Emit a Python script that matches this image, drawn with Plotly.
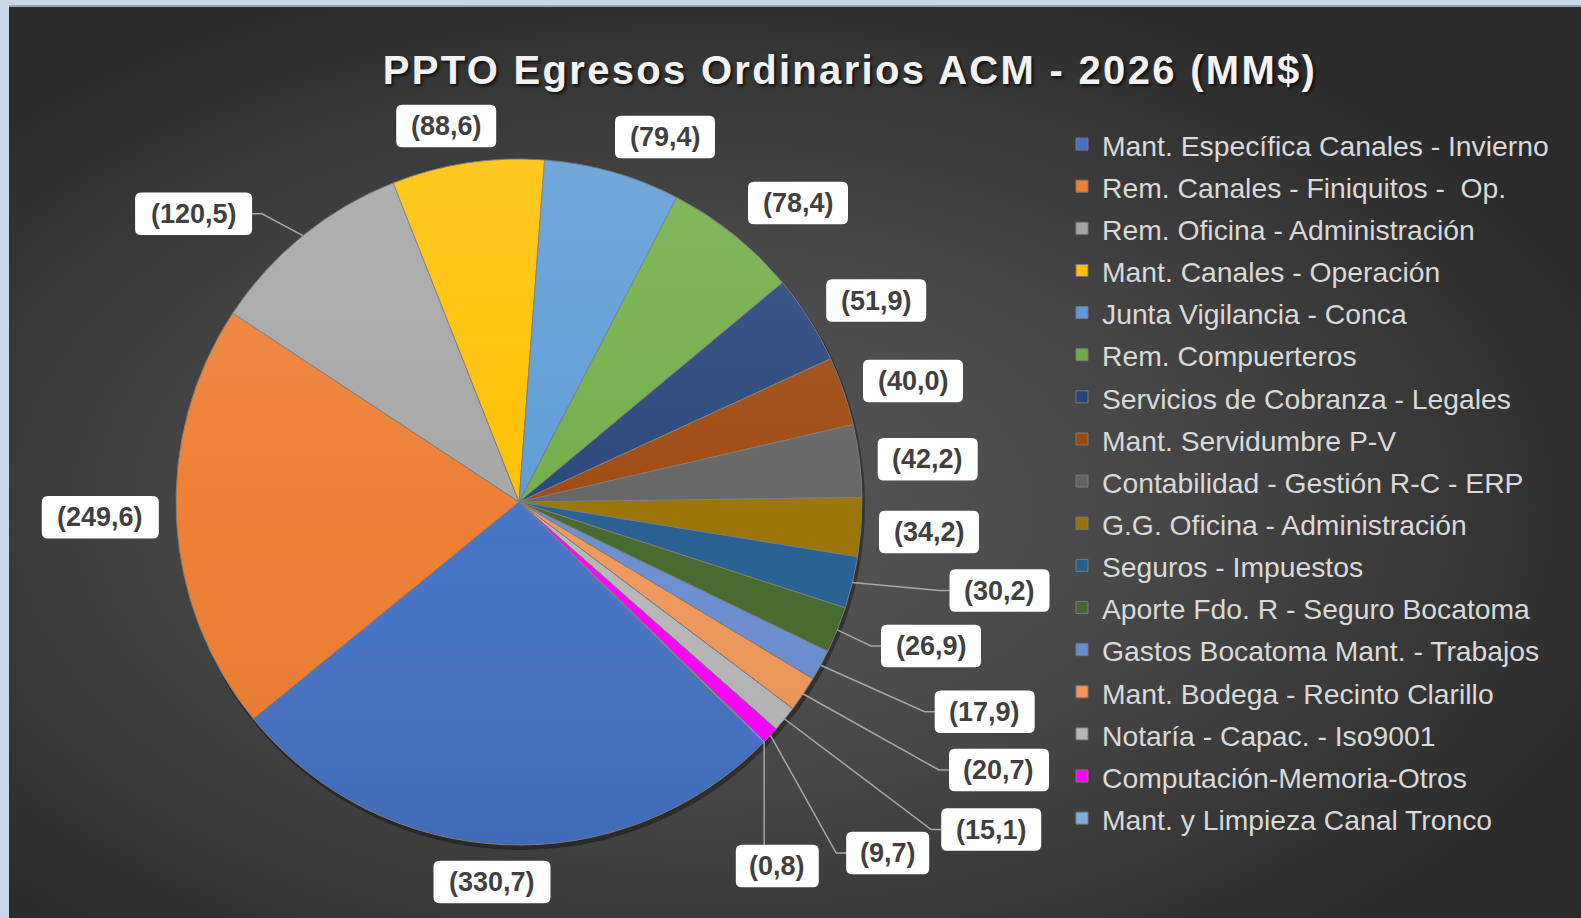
import base64
import math
import plotly.graph_objects as go

W, H = 1581, 918

# ---------------- data ----------------
CATEGORIES = [
    "Mant. Específica Canales - Invierno",
    "Rem. Canales - Finiquitos - \u00a0Op.",
    "Rem. Oficina - Administración",
    "Mant. Canales - Operación",
    "Junta Vigilancia - Conca",
    "Rem. Compuerteros",
    "Servicios de Cobranza - Legales",
    "Mant. Servidumbre P-V",
    "Contabilidad - Gestión R-C - ERP",
    "G.G. Oficina - Administración",
    "Seguros - Impuestos",
    "Aporte Fdo. R - Seguro Bocatoma",
    "Gastos Bocatoma Mant. - Trabajos",
    "Mant. Bodega - Recinto Clarillo",
    "Notaría - Capac. - Iso9001",
    "Computación-Memoria-Otros",
    "Mant. y Limpieza Canal Tronco",
]
VALUES = [330.7, 249.6, 120.5, 88.6, 79.4, 78.4, 51.9, 40.0, 42.2, 34.2,
          30.2, 26.9, 17.9, 20.7, 15.1, 9.7, 0.8]
VALUE_LABELS = ["(330,7)", "(249,6)", "(120,5)", "(88,6)", "(79,4)", "(78,4)",
                "(51,9)", "(40,0)", "(42,2)", "(34,2)", "(30,2)", "(26,9)",
                "(17,9)", "(20,7)", "(15,1)", "(9,7)", "(0,8)"]

# ---------------- styles / layout ----------------
COLORS = ["#4472C4", "#ED7D31", "#A5A5A5", "#FFC000", "#5B9BD5", "#70AD47",
          "#264478", "#9E480E", "#636363", "#997300", "#255E91", "#43682B",
          "#698ED0", "#F1975A", "#B7B7B7", "#FF00FF", "#7CAFDD"]

PIE_CX, PIE_CY, PIE_R = 519, 502, 343      # pixels
ROTATION = 134.5
# label box centres (pixels) and leader-line style
LABEL_POS = [(492, 882), (100.3, 517.2), (193.6, 213.8), (446.2, 126), (665, 137),
             (798, 203), (876.2, 300.5), (913, 381), (927.7, 459.3), (929, 532),
             (999.5, 590.5), (931, 646), (984.7, 711.7), (999, 770), (991.2, 829.5),
             (887.7, 853), (777.3, 866)]
LEADER = [None, None, "side", None, None, None, None, None, None, None,
          "side", "side", "side", "side", "side", "side", "top"]
BOX_H = 42.5
LABEL_FONT = "Liberation Sans, Arial, sans-serif"


def px(x):
    return x / W


def py(y):
    return 1 - y / H


def rounded_rect(x0, y0, x1, y1, r=6):
    pts = [
        ("M", [(x0 + r, y0)]), ("L", [(x1 - r, y0)]), ("Q", [(x1, y0), (x1, y0 + r)]),
        ("L", [(x1, y1 - r)]), ("Q", [(x1, y1), (x1 - r, y1)]), ("L", [(x0 + r, y1)]),
        ("Q", [(x0, y1), (x0, y1 - r)]), ("L", [(x0, y0 + r)]), ("Q", [(x0, y0), (x0 + r, y0)]),
    ]
    s = ""
    for cmd, ps in pts:
        s += cmd + " " + " ".join(f"{px(a):.6f},{py(b):.6f}" for a, b in ps) + " "
    return s + "Z"


def svg_uri(svg):
    return "data:image/svg+xml;base64," + base64.b64encode(svg.encode()).decode()


total = sum(VALUES)
shapes = []
annotations = []

# thin line under the light top strip
shapes.append(dict(type="line", xref="paper", yref="paper", layer="below",
                   x0=px(9), x1=1, y0=py(6), y1=py(6),
                   line=dict(color="#8a8f99", width=1.5)))

# pie shadow
shapes.append(dict(type="circle", xref="paper", yref="paper", layer="below",
                   x0=px(PIE_CX - PIE_R + 1), x1=px(PIE_CX + PIE_R + 3),
                   y0=py(PIE_CY + PIE_R + 5), y1=py(PIE_CY - PIE_R + 2),
                   fillcolor="rgba(0,0,0,0.35)", line=dict(width=0)))

cum = 0.0
for i, v in enumerate(VALUES):
    mid = ROTATION + 360.0 * (cum + v / 2) / total
    cum += v
    ex = PIE_CX + PIE_R * math.sin(math.radians(mid))
    ey = PIE_CY - PIE_R * math.cos(math.radians(mid))
    lab = VALUE_LABELS[i]
    bw = 17 * len(lab) - 2
    bx, by = LABEL_POS[i]
    x0, x1 = bx - bw / 2, bx + bw / 2
    y0, y1 = by - BOX_H / 2, by + BOX_H / 2
    if LEADER[i] == "side":
        if bx > PIE_CX:
            endx, elbx = x0, x0 - 10
        else:
            endx, elbx = x1, x1 + 10
        path = f"M {px(ex):.6f},{py(ey):.6f} L {px(elbx):.6f},{py(by):.6f} L {px(endx):.6f},{py(by):.6f}"
        shapes.append(dict(type="path", xref="paper", yref="paper", path=path,
                           line=dict(color="#a6a6a6", width=1.5)))
    elif LEADER[i] == "top":
        path = f"M {px(ex):.6f},{py(ey):.6f} L {px(ex):.6f},{py(y0):.6f}"
        shapes.append(dict(type="path", xref="paper", yref="paper", path=path,
                           line=dict(color="#a6a6a6", width=1.5)))
    shapes.append(dict(type="path", xref="paper", yref="paper",
                       path=rounded_rect(x0, y0, x1, y1), fillcolor="white",
                       line=dict(width=0)))
    annotations.append(dict(x=px(bx), y=py(by), xref="paper", yref="paper",
                            text=lab, showarrow=False, xanchor="center", yanchor="middle",
                            font=dict(family=LABEL_FONT, size=27, color="#404040", weight="bold")))

legend_labels = [f'<span style="font-size:28.3px">{c}</span>' for c in CATEGORIES]

pie = go.Pie(
    labels=legend_labels, values=VALUES, sort=False, direction="clockwise",
    rotation=ROTATION, textinfo="none", hoverinfo="label+value",
    marker=dict(colors=COLORS, line=dict(color="#7a7a7a", width=1)),
    domain=dict(x=[px(PIE_CX - PIE_R), px(PIE_CX + PIE_R)],
                y=[py(PIE_CY + PIE_R), py(PIE_CY - PIE_R)]),
)

fig = go.Figure(pie)

# background panel with radial gradient
pw, ph = W - 9, H - 7
bg_svg = (f'<svg xmlns="http://www.w3.org/2000/svg" width="{pw}" height="{ph}" viewBox="0 0 {pw} {ph}">'
          '<defs><radialGradient id="g" cx="0.44" cy="0.55" r="0.62">'
          '<stop offset="0" stop-color="#585858"/><stop offset="0.5" stop-color="#464646"/>'
          '<stop offset="1" stop-color="#2b2b2b"/></radialGradient></defs>'
          '<rect width="100%" height="100%" fill="url(#g)"/></svg>')

# soft light-to-dark sheen over the pie (Excel-like gradient fill)
d = 2 * PIE_R
sheen_svg = (f'<svg xmlns="http://www.w3.org/2000/svg" width="{d}" height="{d}" viewBox="0 0 {d} {d}">'
             '<defs><linearGradient id="s" x1="0" y1="0" x2="0" y2="1">'
             '<stop offset="0" stop-color="#ffffff" stop-opacity="0.13"/>'
             '<stop offset="0.55" stop-color="#ffffff" stop-opacity="0.02"/>'
             '<stop offset="1" stop-color="#000000" stop-opacity="0.07"/></linearGradient></defs>'
             f'<circle cx="{PIE_R}" cy="{PIE_R}" r="{PIE_R - 0.5}" fill="url(#s)"/></svg>')

TITLE = "PPTO Egresos Ordinarios ACM - 2026 (MM$)"

fig.update_layout(
    width=W, height=H, autosize=False,
    margin=dict(l=0, r=0, t=0, b=0),
    paper_bgcolor="#c9d8e8",
    images=[
        dict(source=svg_uri(bg_svg), xref="paper", yref="paper", x=px(9), y=py(7),
             sizex=pw / W, sizey=ph / H, xanchor="left", yanchor="top",
             sizing="stretch", layer="below"),
        dict(source=svg_uri(sheen_svg), xref="paper", yref="paper",
             x=px(PIE_CX - PIE_R), y=py(PIE_CY - PIE_R),
             sizex=d / W, sizey=d / H, xanchor="left", yanchor="top",
             sizing="stretch", layer="above"),
    ],
    title=dict(text=f'<span style="letter-spacing:2.3px">{TITLE}</span>',
               x=px(850), y=py(70), xanchor="center", yanchor="middle",
               xref="paper", yref="container",
               font=dict(family="Liberation Sans, Arial, sans-serif", size=40,
                         color="#f2f2f2", weight="bold",
                         shadow="2px 2px 3px rgba(0,0,0,0.7)")),
    showlegend=True,
    legend=dict(x=px(1062), y=py(118), xanchor="left", yanchor="top",
                font=dict(family="Liberation Sans, Arial, sans-serif", size=30.1,
                          color="#d9d9d9"),
                bgcolor="rgba(0,0,0,0)", traceorder="normal"),
    shapes=shapes,
    annotations=annotations,
)

fig.write_html(
    "out.html",
    config={"displayModeBar": False},
    post_script="document.body.style.margin='0px';document.documentElement.style.overflow='hidden';",
)
